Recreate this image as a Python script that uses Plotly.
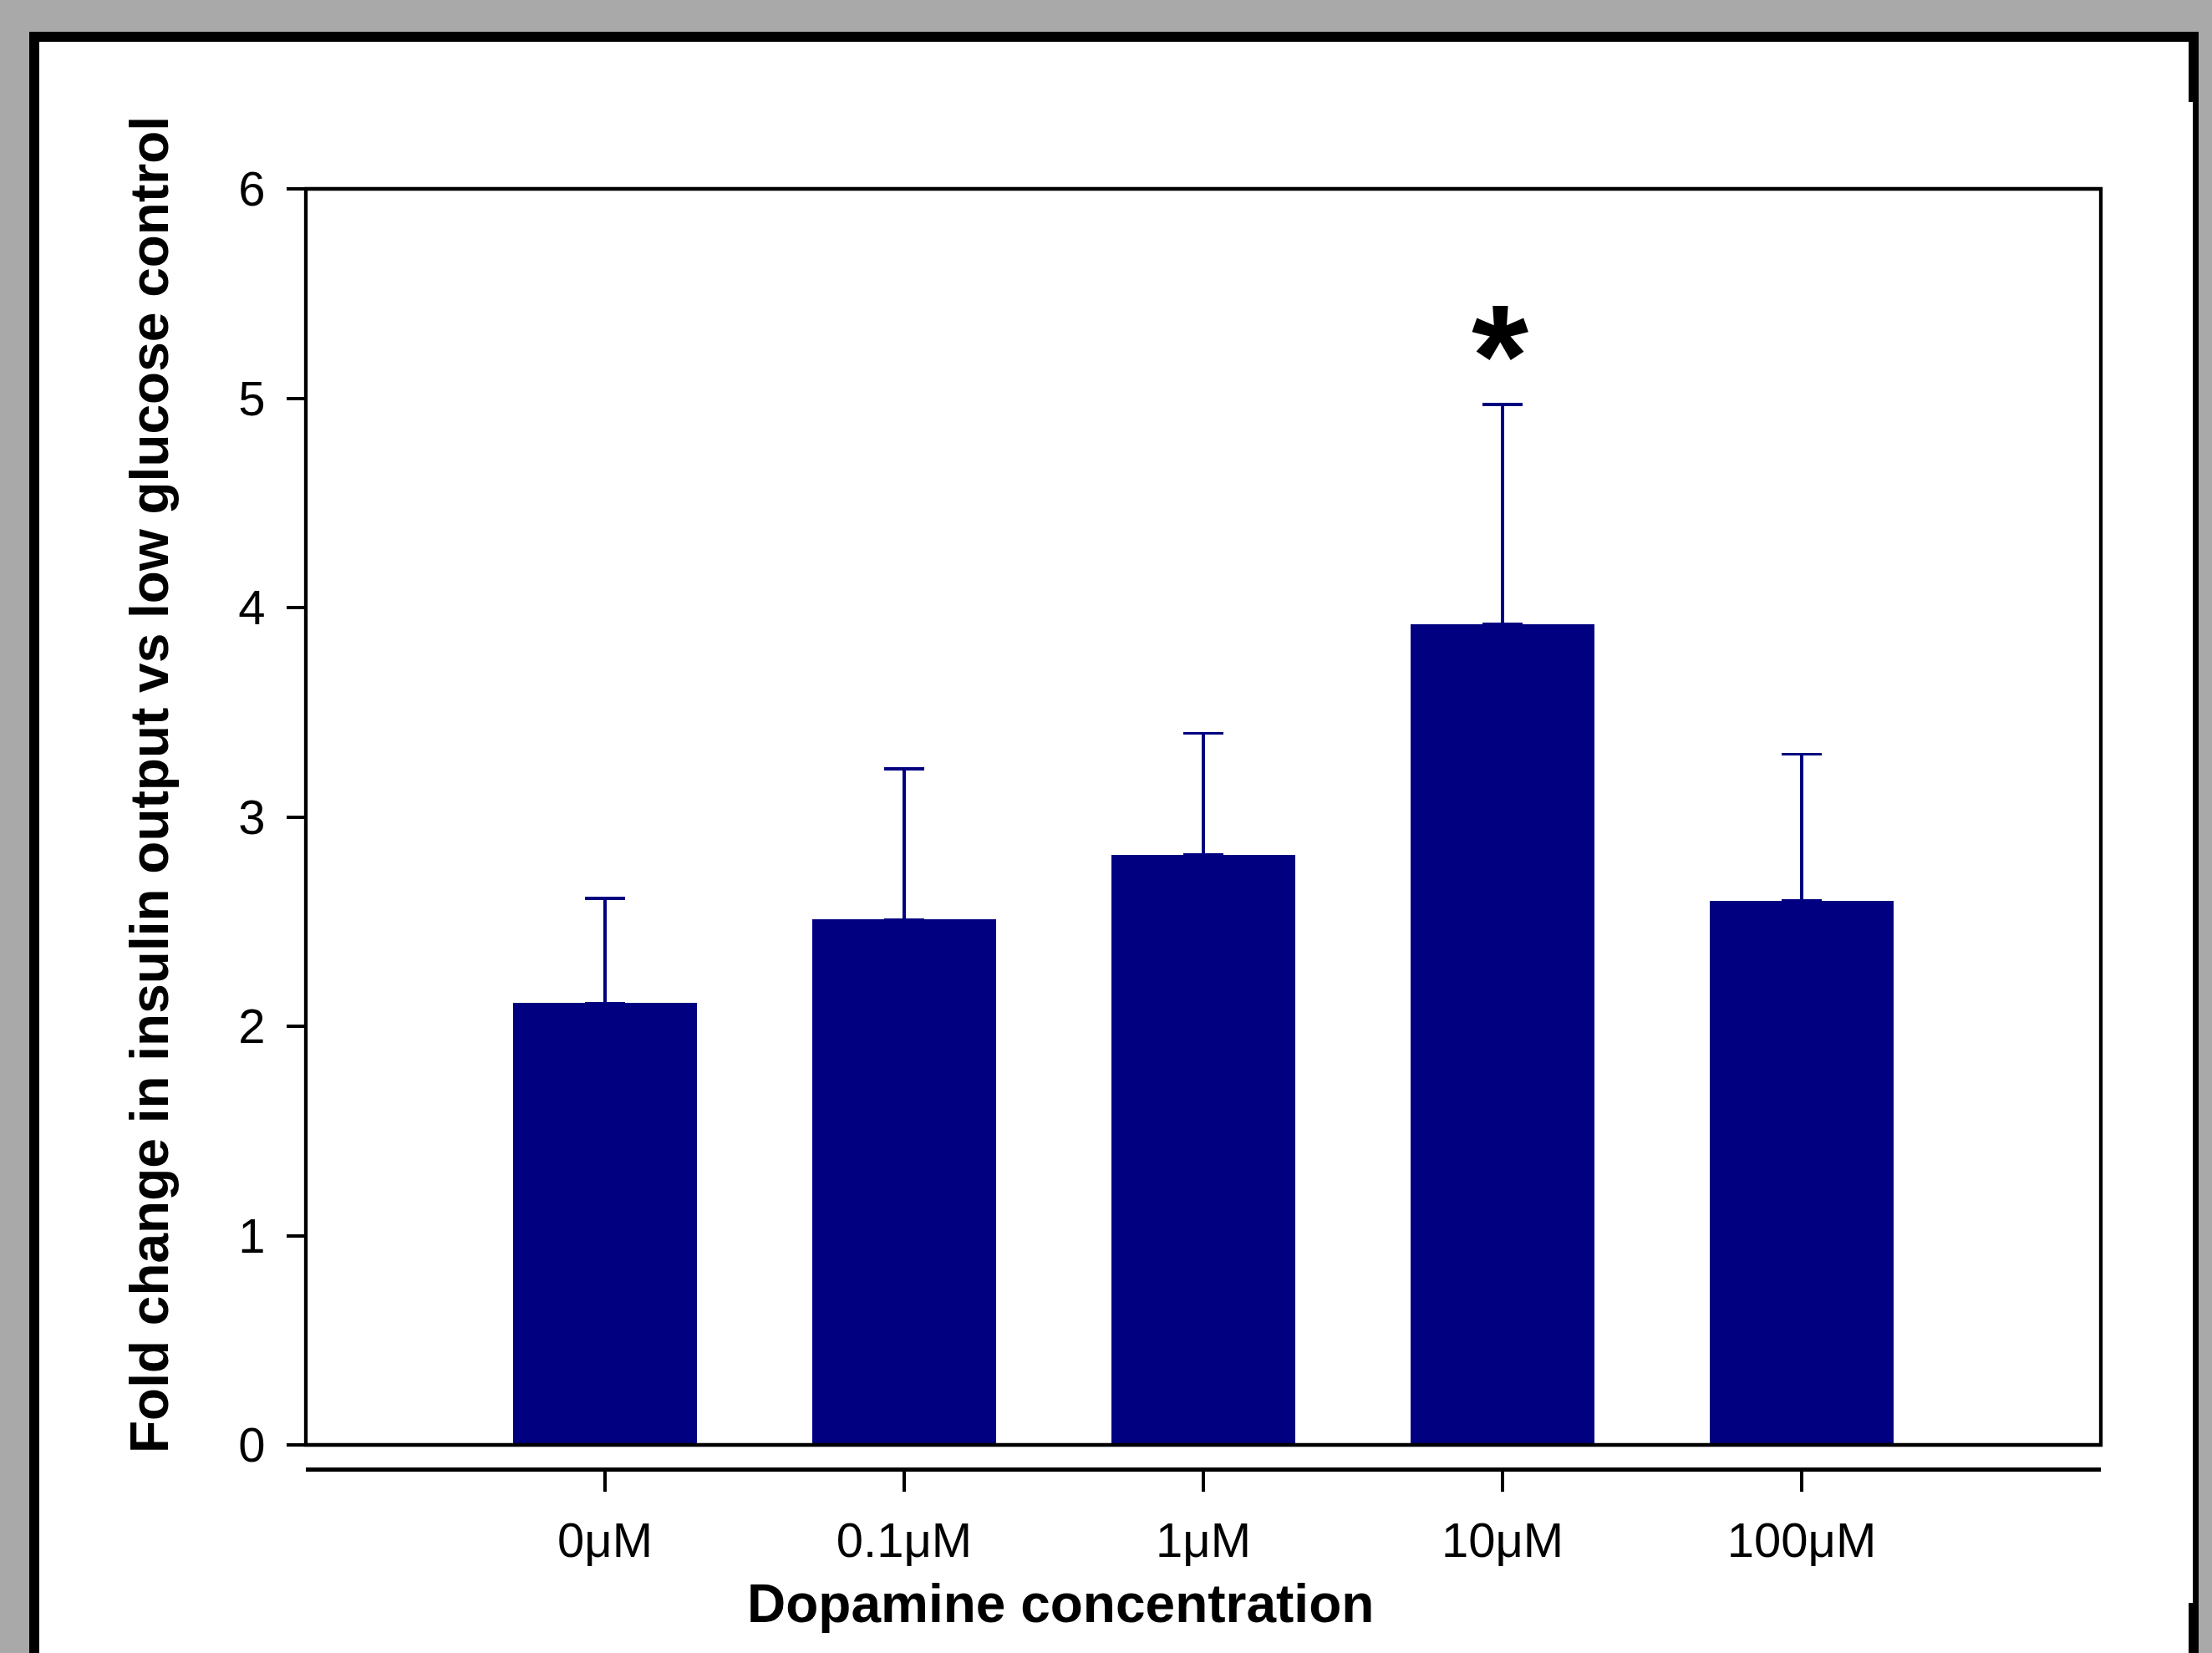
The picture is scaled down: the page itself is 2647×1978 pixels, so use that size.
import plotly.graph_objects as go

categories = ["0μM", "0.1μM", "1μM", "10μM", "100μM"]
means = [2.11, 2.51, 2.82, 3.92, 2.60]
sem = [0.50, 0.72, 0.58, 1.05, 0.70]
y_ticks = [0, 1, 2, 3, 4, 5, 6]
sig_marks = ["", "", "", "*", ""]

W, H = 2647, 1978
L, R, T, B = 366, 2514, 226, 1758   # plot area pixel box (x axis line at B)
PW, PH = R - L, B - T
def px(x): return (x - L) / PW
def py(y): return (B - y) / PH

NAVY = "#000080"
FONT = "Liberation Sans, Arial, sans-serif"
BG = "#a9a9a9"

fig = go.Figure()
fig.add_trace(go.Bar(
    x=categories, y=means, width=0.615,
    marker=dict(color=NAVY, line=dict(width=0)),
    error_y=dict(type="data", array=sem, symmetric=False, arrayminus=[0]*len(sem),
                 color=NAVY, thickness=3.5, width=24),
    showlegend=False, hoverinfo="skip",
))

ydom0 = py(1729)

shapes = [
    # outer frame
    dict(type="rect", xref="paper", yref="paper", x0=px(35), x1=px(2631), y0=py(2100), y1=py(38),
         fillcolor="black", line=dict(width=0), layer="below"),
    dict(type="rect", xref="paper", yref="paper", x0=px(47), x1=px(2624), y0=py(2100), y1=py(50),
         fillcolor="white", line=dict(width=0), layer="below"),
    dict(type="rect", xref="paper", yref="paper", x0=px(2619), x1=px(2624), y0=py(122), y1=py(50),
         fillcolor="black", line=dict(width=0), layer="below"),
    dict(type="rect", xref="paper", yref="paper", x0=px(2619), x1=px(2624), y0=py(2100), y1=py(1918),
         fillcolor="black", line=dict(width=0), layer="below"),
    # inner plot box
    dict(type="rect", xref="x domain", yref="y domain", x0=0, x1=1, y0=0, y1=1,
         line=dict(color="black", width=4.3), fillcolor="rgba(0,0,0,0)", layer="above"),
]

annotations = []
for c, m, e, s in zip(categories, means, sem, sig_marks):
    if s:
        annotations.append(dict(x=c, y=m + e, xref="x", yref="y", text=s, showarrow=False,
                                xshift=-3, yshift=-41, yanchor="bottom",
                                font=dict(family=FONT, size=175, color="black", weight="bold")))
annotations.append(dict(x=px(1269), y=py(1919), xref="paper", yref="paper",
                        text="Dopamine concentration", showarrow=False,
                        xanchor="center", yanchor="middle",
                        font=dict(family=FONT, size=64, color="black", weight="bold")))
annotations.append(dict(x=px(179), y=py(939), xref="paper", yref="paper",
                        text="Fold change in insulin output vs low glucose control", showarrow=False,
                        textangle=-90, xanchor="center", yanchor="middle",
                        font=dict(family=FONT, size=64, color="black", weight="bold")))

fig.update_layout(
    width=W, height=H,
    margin=dict(l=L, r=W - R, t=T, b=H - B, pad=0),
    paper_bgcolor=BG, plot_bgcolor="rgba(0,0,0,0)",
    font=dict(family=FONT, color="black"),
    bargap=0,
    xaxis=dict(type="category", range=[-1, 5], anchor="free", position=0,
               showline=True, linecolor="black", linewidth=4.5,
               ticks="outside", ticklen=24, tickwidth=3.5, tickcolor="black",
               tickfont=dict(family=FONT, size=58, color="black"),
               ticklabelstandoff=9,
               showgrid=False, zeroline=False, fixedrange=True),
    yaxis=dict(domain=[ydom0, 1], range=[0, 6], tickvals=y_ticks,
               showline=False, ticks="outside", ticklen=22, tickwidth=4, tickcolor="black",
               tickfont=dict(family=FONT, size=58, color="black"),
               ticklabelstandoff=14,
               showgrid=False, zeroline=False, fixedrange=True),
    shapes=shapes,
    annotations=annotations,
)

fig.write_html("out.html", config={"displayModeBar": False},
               post_script="document.body.style.margin='0';document.body.style.overflow='hidden';"
                           "document.body.style.background='%s';" % BG)
